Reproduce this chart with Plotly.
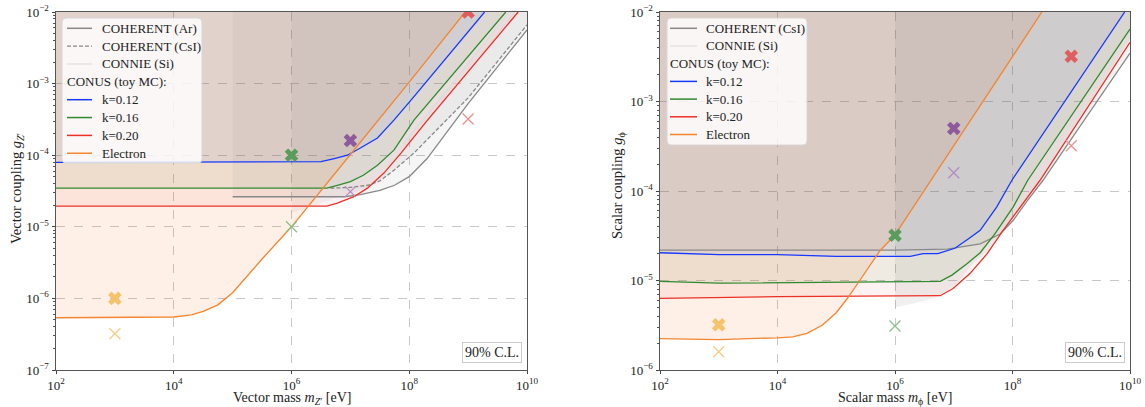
import numpy as np
import plotly.graph_objects as go

# ---------------- DATA (log10 values) ----------------
# Left panel: vector mediator
vec_el_logm = [2, 3, 4, 4.3, 4.5, 4.75, 5.0, 5.5, 6.0, 7.0, 8.0, 8.95]
vec_el_logg = [-6.27, -6.27, -6.26, -6.23, -6.18, -6.09, -5.92, -5.45, -5.0, -3.99, -2.98, -2.0]

vec_k12_logm = [2, 6.0, 6.5, 6.71, 6.95, 7.17, 7.46, 7.74, 8.03, 9.28]
vec_k12_logg = [-4.10, -4.10, -4.09, -4.05, -4.0, -3.9, -3.76, -3.51, -3.23, -2.0]

vec_k16_logm = [2, 6.6, 6.78, 7.0, 7.22, 7.46, 7.74, 8.08, 9.64]
vec_k16_logg = [-4.46, -4.46, -4.42, -4.37, -4.28, -4.14, -3.93, -3.51, -2.0]

vec_k20_logm = [2, 6.6, 6.78, 7.06, 7.29, 7.57, 7.86, 8.31, 9.85]
vec_k20_logg = [-4.71, -4.71, -4.67, -4.58, -4.46, -4.25, -3.97, -3.51, -2.0]

vec_ar_logm = [5.0, 6.9, 7.17, 7.5, 7.75, 8.0, 8.3, 9.0, 10.0]
vec_ar_logg = [-4.58, -4.58, -4.55, -4.49, -4.42, -4.3, -4.05, -3.28, -2.25]

vec_csi_logm = [6.66, 7.0, 7.3, 7.5, 7.74, 8.08, 9.0, 10.0]
vec_csi_logg = [-4.46, -4.45, -4.42, -4.36, -4.21, -3.97, -3.2, -2.18]
vec_csi_fill_logm = [6.0, 6.3, 6.66, 7.0, 7.3, 7.5, 7.74, 8.08, 9.0, 10.0]
vec_csi_fill_logg = [-4.81, -4.72, -4.62, -4.54, -4.44, -4.36, -4.21, -3.97, -3.2, -2.18]

vec_connie_logm = [7.9, 8.5, 9.1, 9.7, 9.79, 9.2, 8.6, 7.96, 7.9]
vec_connie_logg = [-3.84, -3.24, -2.62, -2.0, -2.0, -2.62, -3.24, -3.86, -3.84]

vec_bench_m = [1e3, 1e6, 1e7, 1e9]
vec_bench_g_thick = [1.0e-6, 1.0e-4, 1.6e-4, 1.0e-2]
vec_bench_g_thin = [3.2e-7, 1.0e-5, 3.1e-5, 3.2e-4]

# Right panel: scalar mediator
sca_el_logm = [2, 3, 4, 4.26, 4.5, 4.76, 5.0, 5.2, 5.4, 5.74, 6.0, 7.0, 8.0, 8.5]
sca_el_logg = [-5.65, -5.66, -5.64, -5.63, -5.59, -5.5, -5.36, -5.19, -5.0, -4.67, -4.49, -3.5, -2.5, -2.0]

sca_k12_logm = [2, 3, 4, 5, 6.26, 6.48, 6.73, 7.02, 7.24, 7.45, 7.73, 7.99, 9.91]
sca_k12_logg = [-4.69, -4.71, -4.71, -4.73, -4.73, -4.70, -4.70, -4.64, -4.54, -4.44, -4.18, -3.88, -2.0]

sca_k16_logm = [2, 3, 6.77, 6.97, 7.23, 7.45, 7.70, 8.01, 8.26, 10]
sca_k16_logg = [-5.01, -5.03, -5.01, -4.94, -4.81, -4.69, -4.48, -4.18, -3.88, -2.19]

sca_k20_logm = [2, 4, 6.77, 6.99, 7.28, 7.57, 7.84, 8.13, 8.47, 10]
sca_k20_logg = [-5.20, -5.18, -5.17, -5.09, -4.92, -4.70, -4.44, -4.18, -3.88, -2.34]

sca_csi_logm = [2, 6.0, 6.89, 7.45, 7.79, 8.01, 8.25, 8.52, 10]
sca_csi_logg = [-4.66, -4.66, -4.65, -4.59, -4.48, -4.33, -4.11, -3.88, -2.46]

sca_connie_logm = [6.0, 6.3, 6.7, 7.05, 7.33, 7.57, 7.84, 8.13, 8.47, 10]
sca_connie_logg = [-5.30, -5.26, -5.19, -5.04, -4.81, -4.67, -4.44, -4.18, -3.88, -2.30]

sca_bench_m = [1e3, 1e6, 1e7, 1e9]
sca_bench_g_thick = [3.2e-6, 3.2e-5, 5.0e-4, 3.2e-3]
sca_bench_g_thin = [1.6e-6, 3.1e-6, 1.6e-4, 3.2e-4]

x_tick_exp = [2, 4, 6, 8, 10]
vec_y_tick_exp = [-7, -6, -5, -4, -3, -2]
sca_y_tick_exp = [-6, -5, -4, -3, -2]

vec_legend_labels = ["COHERENT (Ar)", "COHERENT (CsI)", "CONNIE (Si)", "CONUS (toy MC):",
                     "k=0.12", "k=0.16", "k=0.20", "Electron"]
sca_legend_labels = ["COHERENT (CsI)", "CONNIE (Si)", "CONUS (toy MC):",
                     "k=0.12", "k=0.16", "k=0.20", "Electron"]

# ---------------- STYLE ----------------
FONT = "Liberation Serif"
C_BLUE = "#1638ff"
C_GREEN = "#2f8a2f"
C_RED = "#ec3028"
C_ORANGE = "#f5852e"
C_GRAY = "#888888"
C_LGRAY = "#d9d9d9"
bench_thick_cols = ["#f6c26c", "#5b9b5b", "#8f5a9c", "#df5f5f"]
bench_thin_cols = ["#f8cc84", "#8cc08c", "#b48cc2", "#ee9090"]

W, H = 1145, 407
ML, MT = 56, 12
MR = W - 1130
MB = H - 370
PW, PH = W - ML - MR, H - MT - MB


def px2x(px):
    return (px - ML) / PW


def px2y(py):
    return 1 - (py - MT) / PH


def p10(a):
    return list(np.power(10.0, np.array(a, dtype=float)))


def poly(logm, logg):
    xs = list(logm) + [logm[-1], logm[0]]
    ys = list(logg) + [-2.0, -2.0]
    return p10(xs), p10(ys)


fig = go.Figure()


def add_fill(logm, logg, color, xa, ya):
    px, py = poly(logm, logg)
    fig.add_trace(go.Scatter(x=px, y=py, fill="toself", fillcolor=color, mode="lines",
                             line=dict(width=0), hoverinfo="skip", showlegend=False,
                             xaxis=xa, yaxis=ya))


def add_line(logm, logg, color, name, xa, ya, dash="solid", width=1.3):
    fig.add_trace(go.Scatter(x=p10(logm), y=p10(logg), mode="lines", name=name,
                             line=dict(color=color, width=width, dash=dash),
                             showlegend=False, xaxis=xa, yaxis=ya))


# ---- left panel fills
add_fill(vec_el_logm, vec_el_logg, "rgba(245,133,46,0.12)", "x", "y")
add_fill(vec_k20_logm, vec_k20_logg, "rgba(236,48,40,0.06)", "x", "y")
add_fill(vec_k16_logm, vec_k16_logg, "rgba(47,138,47,0.07)", "x", "y")
add_fill(vec_k12_logm, vec_k12_logg, "rgba(40,40,200,0.06)", "x", "y")
add_fill(vec_ar_logm, vec_ar_logg, "rgba(110,110,110,0.07)", "x", "y")
add_fill(vec_csi_fill_logm, vec_csi_fill_logg, "rgba(110,110,110,0.08)", "x", "y")
fig.add_trace(go.Scatter(x=p10(vec_connie_logm), y=p10(vec_connie_logg), fill="toself",
                         fillcolor="rgba(240,220,220,0.5)", mode="lines",
                         line=dict(width=0), hoverinfo="skip", showlegend=False,
                         xaxis="x", yaxis="y"))

# ---- right panel fills
add_fill(sca_el_logm, sca_el_logg, "rgba(245,133,46,0.12)", "x2", "y2")
add_fill(sca_k20_logm, sca_k20_logg, "rgba(236,48,40,0.06)", "x2", "y2")
add_fill(sca_k16_logm, sca_k16_logg, "rgba(47,138,47,0.07)", "x2", "y2")
add_fill(sca_k12_logm, sca_k12_logg, "rgba(40,40,200,0.06)", "x2", "y2")
add_fill(sca_csi_logm, sca_csi_logg, "rgba(110,110,110,0.07)", "x2", "y2")
add_fill(sca_connie_logm, sca_connie_logg, "rgba(110,110,110,0.10)", "x2", "y2")

# ---- left panel lines
add_line(vec_ar_logm, vec_ar_logg, C_GRAY, "COHERENT (Ar)", "x", "y")
add_line(vec_csi_logm, vec_csi_logg, C_GRAY, "COHERENT (CsI)", "x", "y", dash="4px,2px")
add_line(vec_connie_logm, vec_connie_logg, C_LGRAY, "CONNIE (Si)", "x", "y", width=1)
add_line(vec_k12_logm, vec_k12_logg, C_BLUE, "k=0.12", "x", "y")
add_line(vec_k16_logm, vec_k16_logg, C_GREEN, "k=0.16", "x", "y")
add_line(vec_k20_logm, vec_k20_logg, C_RED, "k=0.20", "x", "y")
add_line(vec_el_logm, vec_el_logg, C_ORANGE, "Electron", "x", "y")

# ---- right panel lines
add_line(sca_csi_logm, sca_csi_logg, C_GRAY, "COHERENT (CsI)", "x2", "y2")
add_line(sca_k12_logm, sca_k12_logg, C_BLUE, "k=0.12", "x2", "y2")
add_line(sca_k16_logm, sca_k16_logg, C_GREEN, "k=0.16", "x2", "y2")
add_line(sca_k20_logm, sca_k20_logg, C_RED, "k=0.20", "x2", "y2")
add_line(sca_el_logm, sca_el_logg, C_ORANGE, "Electron", "x2", "y2")

# ---- benchmark markers
for m, gthick, gthin, xa, ya in [(vec_bench_m, vec_bench_g_thick, vec_bench_g_thin, "x", "y"),
                                 (sca_bench_m, sca_bench_g_thick, sca_bench_g_thin, "x2", "y2")]:
    fig.add_trace(go.Scatter(x=m, y=gthin, mode="markers", showlegend=False, cliponaxis=True,
                             marker=dict(symbol="x-thin", size=11, color=bench_thin_cols,
                                         line=dict(color=bench_thin_cols, width=1.3)),
                             xaxis=xa, yaxis=ya))
    fig.add_trace(go.Scatter(x=m, y=gthick, mode="markers", showlegend=False, cliponaxis=True,
                             marker=dict(symbol="x", size=12, color=bench_thick_cols,
                                         line=dict(width=0)),
                             xaxis=xa, yaxis=ya))

# ---------------- manual legends (matplotlib style) ----------------
shapes = []
annotations = []
LEG_FS = 13


def rounded_box(x0, y0, x1, y1, r=4):
    rx, ry = r / PW, r / PH
    X0, X1 = px2x(x0), px2x(x1)
    Y0, Y1 = px2y(y0), px2y(y1)  # Y0 top, Y1 bottom
    path = (f"M {X0+rx},{Y0} L {X1-rx},{Y0} Q {X1},{Y0} {X1},{Y0-ry} "
            f"L {X1},{Y1+ry} Q {X1},{Y1} {X1-rx},{Y1} L {X0+rx},{Y1} "
            f"Q {X0},{Y1} {X0},{Y1+ry} L {X0},{Y0-ry} Q {X0},{Y0} {X0+rx},{Y0} Z")
    shapes.append(dict(type="path", path=path, xref="paper", yref="paper", layer="above",
                       fillcolor="rgba(255,255,255,0.82)", line=dict(color="#d6d6d6", width=1)))


def build_legend(box, hx0, hx1, tx, row0, dy, labels, styles):
    rounded_box(*box)
    for i, (lab, st) in enumerate(zip(labels, styles)):
        yc = row0 + i * dy
        if st is None:
            annotations.append(dict(text=lab, xref="paper", yref="paper", x=px2x(hx0 - 2),
                                    y=px2y(yc), xanchor="left", yanchor="middle",
                                    showarrow=False, font=dict(family=FONT, size=LEG_FS, color="#222")))
            continue
        col, dash, wid = st
        shapes.append(dict(type="line", xref="paper", yref="paper", layer="above",
                           x0=px2x(hx0), x1=px2x(hx1), y0=px2y(yc), y1=px2y(yc),
                           line=dict(color=col, width=wid, dash=dash)))
        annotations.append(dict(text=lab, xref="paper", yref="paper", x=px2x(tx - 2),
                                y=px2y(yc), xanchor="left", yanchor="middle",
                                showarrow=False, font=dict(family=FONT, size=LEG_FS, color="#222")))


vec_styles = [(C_GRAY, "solid", 1.5), (C_GRAY, "4px,2px", 1.3), (C_LGRAY, "solid", 1), None,
              (C_BLUE, "solid", 1.5), (C_GREEN, "solid", 1.5), (C_RED, "solid", 1.5),
              (C_ORANGE, "solid", 1.5)]
sca_styles = [(C_GRAY, "solid", 1.5), (C_LGRAY, "solid", 1), None,
              (C_BLUE, "solid", 1.5), (C_GREEN, "solid", 1.5), (C_RED, "solid", 1.5),
              (C_ORANGE, "solid", 1.5)]

build_legend((62, 18, 202, 163), 67, 92, 102, 28.3, 17.85, vec_legend_labels, vec_styles)
build_legend((667, 18, 807, 145), 670, 697, 706, 28.3, 17.7, sca_legend_labels, sca_styles)

for xr, yr in [("x domain", "y domain"), ("x2 domain", "y2 domain")]:
    annotations.append(dict(text="90% C.L.", xref=xr, yref=yr, x=0.989, y=0.02,
                            xanchor="right", yanchor="bottom", showarrow=False,
                            font=dict(family=FONT, size=14, color="#222"),
                            bgcolor="white", bordercolor="#cccccc", borderwidth=1, borderpad=2))

# axis titles (placed where the reference has them)
TITLE_FONT = dict(family=FONT, size=14.5, color="#222")
XTITLE_FONT = dict(family=FONT, size=14, color="#222")
annotations.append(dict(text="Vector coupling <i>g</i><sub><i>Z</i>\u2032</sub>", textangle=-90,
                        xref="paper", yref="paper", x=px2x(17), y=px2y(188),
                        xanchor="center", yanchor="middle", showarrow=False, font=TITLE_FONT))
annotations.append(dict(text="Scalar coupling <i>g</i><sub>\u03d5</sub>", textangle=-90,
                        xref="paper", yref="paper", x=px2x(618), y=px2y(186),
                        xanchor="center", yanchor="middle", showarrow=False, font=TITLE_FONT))
annotations.append(dict(text="Vector mass <i>m</i><sub><i>Z</i>\u2032</sub> [eV]",
                        xref="paper", yref="paper", x=px2x(291.5), y=px2y(388),
                        xanchor="center", yanchor="top", showarrow=False, font=XTITLE_FONT))
annotations.append(dict(text="Scalar mass <i>m</i><sub>\u03d5</sub> [eV]",
                        xref="paper", yref="paper", x=px2x(895), y=px2y(388),
                        xanchor="center", yanchor="top", showarrow=False, font=XTITLE_FONT))


def sup(e):
    s = str(e).replace("-", "\u2212")
    return "10<sup>" + s + "</sup>"


def minor_vals(lo, hi):
    v = []
    for d in range(lo, hi):
        for k in range(2, 10):
            v.append(k * 10.0 ** d)
    return v


axis_common = dict(type="log", showline=True, mirror=True, linecolor="#555", linewidth=1,
                   ticks="outside", tickcolor="#444", showgrid=True,
                   gridcolor="#c8c8c8", griddash="dash", gridwidth=1, zeroline=False,
                   automargin=False, ticklabeloverflow="allow",
                   tickfont=dict(family=FONT, size=13, color="#222"))

fig.update_layout(
    width=W, height=H,
    margin=dict(l=ML, r=MR, t=MT, b=MB),
    paper_bgcolor="white", plot_bgcolor="white",
    font=dict(family=FONT, size=13, color="#222"),
    showlegend=False,
    xaxis=dict(domain=[0, px2x(527)], range=[2, 10], anchor="y", ticklen=3,
               tickvals=p10(x_tick_exp), ticktext=[sup(e) for e in x_tick_exp],
               **axis_common),
    yaxis=dict(domain=[0, 1], range=[-7, -2], anchor="x", ticklen=3.5,
               tickvals=p10(vec_y_tick_exp), ticktext=[sup(e) for e in vec_y_tick_exp],
               minor=dict(ticks="outside", ticklen=2, tickcolor="#555", tickvals=minor_vals(-7, -2), showgrid=False),
               **axis_common),
    xaxis2=dict(domain=[px2x(660), 1.0], range=[2, 10], anchor="y2", ticklen=3,
                tickvals=p10(x_tick_exp), ticktext=[sup(e) for e in x_tick_exp],
                **axis_common),
    yaxis2=dict(domain=[0, 1], range=[-6, -2], anchor="x2", ticklen=3.5,
                tickvals=p10(sca_y_tick_exp), ticktext=[sup(e) for e in sca_y_tick_exp],
                minor=dict(ticks="outside", ticklen=2, tickcolor="#555", tickvals=minor_vals(-6, -2), showgrid=False),
                **axis_common),
    shapes=shapes,
    annotations=annotations,
)

# drop the browser's default 8px page margin so the figure sits at the window origin
fig.write_html("out.html", config={"displayModeBar": False},
               post_script="document.body.style.margin='0';")
